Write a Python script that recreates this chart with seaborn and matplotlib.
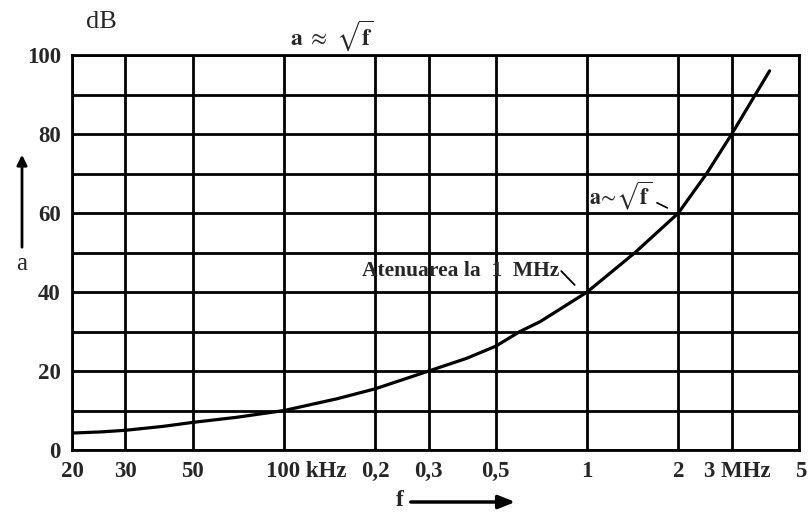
import matplotlib
matplotlib.use("Agg")
import matplotlib.pyplot as plt
import matplotlib.transforms as mtransforms
import numpy as np
import pandas as pd
import seaborn as sns

# attenuation a (dB) vs frequency f (kHz)
freq_khz = [20, 25, 30, 40, 50, 70, 100, 150, 200, 300, 400, 500, 600, 700,
            1000, 1440, 2000, 2480, 3000, 4000]
atten_db = [4.3, 4.6, 5.0, 6.0, 7.0, 8.3, 10.0, 13.0, 15.5, 20.0, 23.2, 26.3,
            30.0, 32.5, 40.0, 50.0, 60.0, 70.0, 80.0, 96.0]

x_ticks = [20, 30, 50, 100, 200, 300, 500, 1000, 2000, 3000, 5000]
x_labels = ["20", "30", "50", "100 kHz", "0,2", "0,3", "0,5", "1", "2", "3 MHz", "5"]
y_ticks = [0, 20, 40, 60, 80, 100]
y_grid = [10, 30, 50, 70, 90]

sns.set_theme(style="white")
plt.rcParams["font.family"] = ["Liberation Serif", "DejaVu Serif"]
plt.rcParams["mathtext.fontset"] = "stix"

fig = plt.figure(figsize=(8.1, 5.12), dpi=100)
ax = fig.add_axes([0.0889, 0.121, 0.8975, 0.7715])

df = pd.DataFrame({"f": freq_khz, "a": atten_db})
sns.lineplot(data=df, x="f", y="a", color="black", linewidth=2.3, ax=ax)

ax.set_xscale("log")
ax.set_xlim(20, 5000)
ax.set_ylim(0, 100)
ax.set_xticks(x_ticks)
ax.xaxis.set_minor_locator(matplotlib.ticker.NullLocator())
ax.set_xticklabels(x_labels, fontweight="bold", fontsize=16.5)
ax.set_yticks(y_ticks)
ax.set_yticks(y_grid, minor=True)
ax.set_yticklabels([str(v) for v in y_ticks], fontweight="bold", fontsize=16.5)
ax.tick_params(axis="both", which="both", length=0)
ax.tick_params(axis="x", pad=8)
ax.tick_params(axis="y", pad=8)
ax.grid(True, which="both", color="black", linewidth=2)
ax.set_xlabel("")
ax.set_ylabel("")
for s in ax.spines.values():
    s.set_color("black")
    s.set_linewidth(2)

# shift the labels that carry units so the number sits on its line
for lab in ax.get_xticklabels():
    t = lab.get_text()
    if t == "100 kHz":
        lab.set_transform(lab.get_transform() + mtransforms.ScaledTranslation(0.22, 0, fig.dpi_scale_trans))
    elif t == "3 MHz":
        lab.set_transform(lab.get_transform() + mtransforms.ScaledTranslation(0.06, 0, fig.dpi_scale_trans))
    elif t == "5":
        lab.set_transform(lab.get_transform() + mtransforms.ScaledTranslation(0.02, 0, fig.dpi_scale_trans))

# texts
fig.text(86 / 810, 1 - 22 / 512, "dB", fontsize=19, va="center", ha="left")
fig.text(290 / 810, 1 - 36 / 512, r"$\mathbf{a}\ \approx\ \sqrt{\mathbf{f}}$",
         fontsize=17, va="center", ha="left")

ax.text(1290, 64.3, r"$\mathbf{a}\!\sim\!\sqrt{\mathbf{f}}$", fontsize=16,
        va="center", ha="center")
ax.annotate("", xy=(1840, 61.3), xytext=(1700, 62.6),
            arrowprops=dict(arrowstyle="-", color="black", lw=1.2,
                            shrinkA=0, shrinkB=0))
ax.text(810, 45.3, "Atenuarea la  1  MHz", fontsize=15.5, fontweight="bold",
        va="center", ha="right")
ax.annotate("", xy=(910, 41.8), xytext=(822, 45.3),
            arrowprops=dict(arrowstyle="-", color="black", lw=1.3,
                            shrinkA=0, shrinkB=0))

# axis arrows
fig.text(22 / 810, 1 - 264 / 512, "a", fontsize=18, ha="center", va="center")
fig.add_artist(matplotlib.patches.FancyArrowPatch(
    (22 / 810, 1 - 250 / 512), (22 / 810, 1 - 152 / 512),
    transform=fig.transFigure, arrowstyle="-|>,head_length=6,head_width=3",
    color="black", lw=2, mutation_scale=1))
fig.text(400 / 810, 1 - 500 / 512, "f", fontsize=17, fontweight="bold",
         ha="center", va="center")
fig.add_artist(matplotlib.patches.FancyArrowPatch(
    (408 / 810, 1 - 502 / 512), (518 / 810, 1 - 502 / 512),
    transform=fig.transFigure, arrowstyle="-|>,head_length=10,head_width=4",
    color="black", lw=2.5, mutation_scale=1))

fig.savefig("out.png", dpi=100, facecolor="white")
